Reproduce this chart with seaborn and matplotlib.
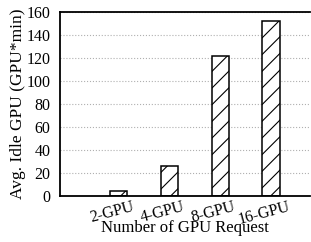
import pandas as pd
import seaborn as sns
import matplotlib.pyplot as plt
import matplotlib.transforms as mtrans

# data
requests = ['2-GPU', '4-GPU', '8-GPU', '16-GPU']
idle_gpu = [4, 26, 121.5, 152]
yticks = [0, 20, 40, 60, 80, 100, 120, 140, 160]

df = pd.DataFrame({'req': requests, 'idle': idle_gpu})

sns.set_style('ticks')
plt.rcParams['font.family'] = ['Liberation Serif', 'DejaVu Serif']
plt.rcParams['hatch.linewidth'] = 0.8
plt.rcParams['text.color'] = 'black'
plt.rcParams['axes.labelcolor'] = 'black'
plt.rcParams['xtick.color'] = 'black'
plt.rcParams['ytick.color'] = 'black'
plt.rcParams['axes.edgecolor'] = 'black'

fig = plt.figure(figsize=(3.11, 2.42), dpi=100)
ax = fig.add_axes([60 / 311, 1 - 196 / 242, 250 / 311, 184 / 242])

sns.barplot(data=df, x='req', y='idle', ax=ax, width=0.34,
            color='white', edgecolor='black', linewidth=1.1, hatch='//')

ax.set_ylim(0, 160)
ax.set_xlim(-1.16, 3.77)
ax.set_yticks(yticks)
ax.yaxis.grid(True, linestyle=':', color='#b0b0b0', linewidth=0.8)
ax.set_axisbelow(True)
for s in ['left', 'bottom', 'top']:
    ax.spines[s].set_linewidth(1.3)
ax.spines['right'].set_visible(False)
ax.tick_params(axis='y', length=0, labelsize=11.5, pad=7)
ax.tick_params(axis='x', length=0, labelsize=11.5, pad=2)
shift = mtrans.ScaledTranslation(-7 / 100, 0, fig.dpi_scale_trans)
for lab in ax.get_xticklabels():
    lab.set_rotation(15)
    lab.set_transform(lab.get_transform() + shift)
ax.set_xlabel('Number of GPU Request', fontsize=12, labelpad=-6)
ax.set_ylabel('Avg. Idle GPU (GPU*min)', fontsize=12.5, labelpad=0)

fig.savefig('out.png', dpi=100)
